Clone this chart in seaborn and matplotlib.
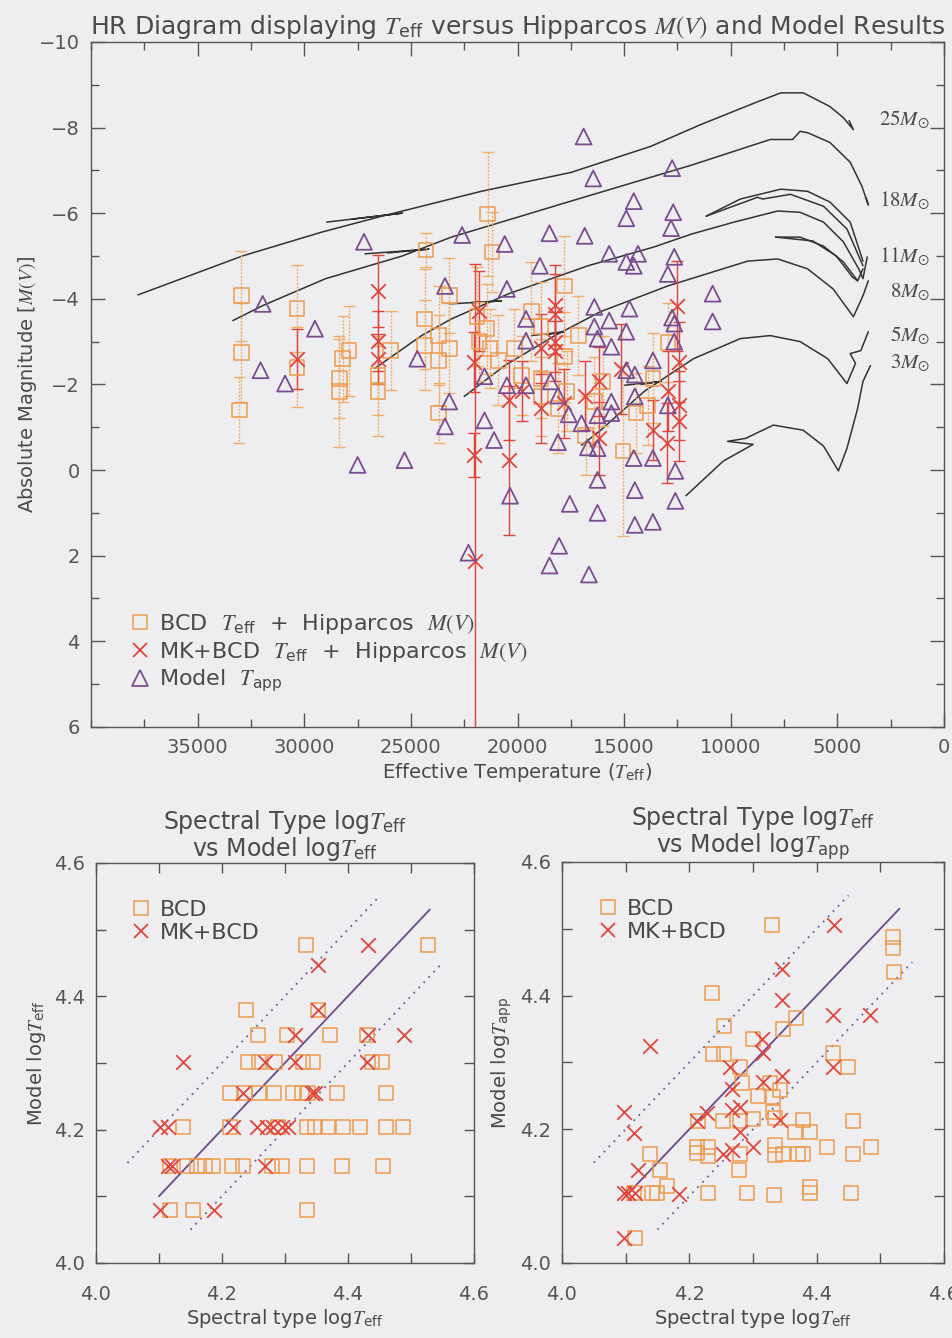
import numpy as np
import pandas as pd
import matplotlib
matplotlib.use("Agg")
import matplotlib.pyplot as plt
from matplotlib.lines import Line2D
from matplotlib.ticker import MultipleLocator
import seaborn as sns

# ---------------- data: HR diagram ----------------
bcd_T = [32950, 32950, 33050, 30350, 30350, 28350, 28350, 28200, 27900, 26550,
         26550, 25950, 24300, 24350, 23200, 24350, 23700, 23700, 23200, 23700,
         21400, 21200, 21900, 21450, 21300, 20900, 20150, 19350, 18900, 17800,
         17150, 17800, 18900, 19800, 18100, 16000, 16400, 13650, 13900, 16800,
         15050, 14450, 12950, 21800, 18900, 17700]
bcd_M = [-4.07, -2.74, -1.40, -3.77, -2.40, -1.84, -2.14, -2.60, -2.79, -2.21,
         -1.84, -2.79, -5.14, -3.53, -4.07, -2.91, -3.14, -2.56, -2.84, -1.33,
         -5.98, -5.09, -3.58, -3.30, -2.84, -2.56, -2.84, -3.70, -3.35, -4.30,
         -3.14, -2.65, -2.14, -2.21, -1.44, -2.07, -1.60, -2.14, -1.51, -0.81,
         -0.44, -1.33, -2.98, -3.00, -1.72, -1.84]
bcd_err = [1.05, 1.16, 0.77, 1.02, 0.93, 1.30, 0.93, 1.00, 1.05, 0.93,
           1.05, 0.93, 0.40, 1.16, 0.88, 1.05, 1.16, 1.05, 1.05, 0.70,
           1.44, 0.93, 1.16, 1.05, 0.93, 1.05, 0.93, 1.16, 1.05, 1.16,
           0.93, 1.05, 0.93, 0.93, 1.05, 1.05, 1.05, 1.05, 0.93, 0.93,
           1.98, 0.93, 0.93, 0.93, 0.93, 0.93]

mk_T = [26550, 26550, 26550, 30350, 22000, 22050, 22050, 21800, 20400, 20400,
        19800, 18900, 18900, 18250, 18250, 18250, 18250, 17800, 16850, 16200,
        16200, 15150, 13650, 12950, 13000, 12500, 12450, 12450, 12450]
mk_M = [-4.19, -3.02, -2.60, -2.60, 2.12, -0.35, -2.53, -3.72, -1.63, -0.23,
        -1.84, -1.44, -2.84, -3.86, -3.65, -3.00, -2.79, -1.56, -1.74, -2.07,
        -0.74, -2.37, -0.93, -1.84, -0.63, -3.84, -2.53, -1.51, -1.14]
mk_err = [0.84, 0.70, 0.58, 0.70, 6.93, 0.51, 0.70, 0.93, 0.93, 1.74,
          0.70, 0.81, 0.81, 0.93, 0.93, 0.70, 0.70, 0.81, 0.81, 0.81,
          0.86, 1.05, 0.70, 0.93, 0.93, 1.05, 0.93, 0.81, 0.93]

tapp_T = [27200, 31950, 29500, 22600, 23400, 32050, 30900, 27500, 25300, 24700,
          23200, 23400, 22300, 16900, 16450, 12750, 14550, 14900, 12700, 12800,
          20600, 18500, 16850, 15700, 14350, 14900, 14550, 18950, 12650, 12950,
          20500, 10850, 10850, 16400, 14750, 19600, 15700, 12750, 16400, 12650,
          14900, 16250, 19600, 15600, 12650, 21550, 20500, 19600, 18450, 18100,
          17600, 21550, 21100, 18100, 17000, 16700, 16250, 16250, 15600, 15600,
          14900, 14500, 14500, 13650, 12950, 12600, 14550, 13650, 16250, 14500,
          20350, 17550, 16250, 12600, 14500, 13650, 18050, 18500, 16650]
tapp_M = [-5.33, -3.88, -3.30, -5.49, -4.30, -2.33, -2.02, -0.12, -0.23, -2.60,
          -1.60, -1.02, 1.93, -7.79, -6.81, -7.05, -6.28, -5.88, -6.02, -5.65,
          -5.28, -5.53, -5.47, -5.05, -5.05, -4.86, -4.77, -4.77, -4.98, -4.58,
          -4.23, -4.12, -3.47, -3.81, -3.77, -3.53, -3.49, -3.56, -3.35, -3.42,
          -3.23, -3.07, -3.02, -2.88, -3.00, -2.19, -1.98, -1.98, -2.07, -1.74,
          -1.30, -1.16, -0.70, -0.65, -1.09, -0.53, -0.51, -1.28, -1.60, -1.33,
          -2.33, -2.23, -1.72, -2.56, -1.51, 0.02, -0.28, -0.28, 0.23, 0.47,
          0.60, 0.79, 1.00, 0.72, 1.28, 1.21, 1.77, 2.23, 2.44]

# evolutionary tracks (T_eff, M(V))
trk25_T = [37800, 32900, 29160, 26350, 21700, 17500, 13750, 11400, 8750, 7650, 6600, 5350, 4720, 4250, 4450]
trk25_M = [-4.09, -5.00, -5.56, -5.93, -6.51, -6.95, -7.56, -8.07, -8.60, -8.81, -8.81, -8.49, -8.23, -7.95, -8.16]
hook25_T = [28950, 25400, 27750]
hook25_M = [-5.79, -6.00, -5.86]
trk18_T = [33350, 31950, 29000, 25400, 23100, 17500, 11850, 8150, 7100, 6750, 6400, 5350, 4400, 3850, 3550, 3650]
trk18_M = [-3.49, -3.84, -4.47, -5.00, -5.44, -6.28, -7.12, -7.72, -7.72, -7.91, -7.88, -7.65, -7.19, -6.63, -6.19, -6.35]
hook18_T = [27150, 24150, 26100]
hook18_M = [-5.05, -5.16, -5.07]
trk11_T = [26700, 24500, 23100, 20400, 16700, 13600, 11850, 9850, 7800, 6750, 5650, 4720, 4000, 3800, 3600]
trk11_M = [-2.37, -3.14, -3.53, -4.12, -4.77, -5.21, -5.51, -5.79, -6.05, -6.02, -5.79, -5.33, -4.70, -4.47, -4.98]
hook11_T = [23200, 20750, 22150]
hook11_M = [-3.88, -3.95, -3.91]
loopA_T = [11150, 9550, 7650, 6400, 5350, 4400, 3800]
loopA_M = [-5.93, -6.33, -6.56, -6.51, -6.26, -5.79, -4.88]
loopB_T = [11150, 8750, 8500, 7200, 5650, 4550, 3800]
loopB_M = [-5.93, -6.37, -6.33, -6.44, -6.16, -5.63, -4.77]
segE1_T = [7900, 6750, 5650, 4720, 4050, 3800]
segE1_M = [-5.44, -5.44, -5.23, -4.86, -4.42, -4.70]
segE2_T = [7900, 6150, 5050, 4300, 4050]
segE2_M = [-5.44, -5.35, -5.00, -4.51, -4.42]
trk8_T = [22500, 20600, 18250, 16100, 12950, 9200, 7800, 6400, 5200, 4250, 3800, 3550]
trk8_M = [-1.72, -2.44, -3.14, -3.70, -4.30, -4.88, -4.93, -4.70, -4.23, -3.58, -4.07, -4.42]
hook8_T = [19350, 17800, 18650]
hook8_M = [-3.14, -3.23, -3.16]
trk5_T = [17000, 16100, 14050, 11750, 9550, 8150, 6750, 5450, 4550, 4150, 4400, 3900, 3550]
trk5_M = [-0.58, -0.93, -1.84, -2.60, -3.07, -3.14, -3.00, -2.60, -2.02, -2.49, -2.72, -2.79, -3.23]
hook5_T = [15000, 13250, 14200]
hook5_M = [-1.98, -2.07, -2.00]
trk3_T = [12100, 10350, 8950, 10150, 9300, 8000, 6600, 5650, 4950, 4550, 4050, 3800, 3450]
trk3_M = [0.60, -0.21, -0.60, -0.67, -0.74, -1.05, -0.93, -0.56, 0.02, -0.51, -1.44, -2.07, -2.44]

mass_labels = ["25", "18", "11", "8", "5", "3"]
mass_label_M = [-8.19, -6.28, -4.98, -4.16, -3.14, -2.49]

# ---------------- data: log T comparison panels ----------------
l_bcd_x = [4.333, 4.527, 4.238, 4.352, 4.257, 4.303, 4.371, 4.430,
           4.241, 4.259, 4.284, 4.329, 4.344, 4.438, 4.454,
           4.213, 4.237, 4.259, 4.283, 4.313, 4.327, 4.337, 4.383, 4.460,
           4.138, 4.213, 4.289, 4.335, 4.348, 4.368, 4.392, 4.419, 4.460, 4.487,
           4.117, 4.144, 4.160, 4.173, 4.186, 4.216, 4.233, 4.279, 4.295, 4.335, 4.390, 4.456,
           4.117, 4.154, 4.335]
l_bcd_y = [4.477, 4.477, 4.380, 4.380, 4.342, 4.342, 4.342, 4.342,
           4.301, 4.301, 4.301, 4.301, 4.301, 4.301, 4.301,
           4.255, 4.255, 4.255, 4.255, 4.255, 4.255, 4.255, 4.255, 4.255,
           4.204, 4.204, 4.204, 4.204, 4.204, 4.204, 4.204, 4.204, 4.204, 4.204,
           4.146, 4.146, 4.146, 4.146, 4.146, 4.146, 4.146, 4.146, 4.146, 4.146, 4.146, 4.146,
           4.079, 4.079, 4.079]
l_mk_x = [4.432, 4.352, 4.352, 4.316, 4.432, 4.489, 4.138, 4.268, 4.316, 4.430,
          4.233, 4.343, 4.348, 4.102, 4.114, 4.217, 4.256, 4.271, 4.281, 4.295,
          4.305, 4.114, 4.121, 4.268, 4.102, 4.187]
l_mk_y = [4.477, 4.447, 4.380, 4.342, 4.342, 4.342, 4.301, 4.301, 4.301, 4.301,
          4.255, 4.255, 4.255, 4.204, 4.204, 4.204, 4.204, 4.204, 4.204, 4.204,
          4.204, 4.146, 4.146, 4.146, 4.079, 4.079]

r_bcd_x = [4.330, 4.520, 4.520, 4.521, 4.236, 4.254, 4.368, 4.347, 4.300, 4.237,
           4.254, 4.426, 4.449, 4.280, 4.283, 4.327, 4.342, 4.308, 4.331, 4.331,
           4.253, 4.280, 4.300, 4.214, 4.335, 4.366, 4.379, 4.390, 4.457, 4.212,
           4.229, 4.212, 4.229, 4.280, 4.335, 4.335, 4.347, 4.371, 4.379, 4.416,
           4.457, 4.485, 4.138, 4.154, 4.278, 4.165, 4.149, 4.141, 4.229, 4.291,
           4.333, 4.390, 4.390, 4.454, 4.113, 4.115]
r_bcd_y = [4.506, 4.488, 4.471, 4.435, 4.404, 4.355, 4.367, 4.350, 4.335, 4.313,
           4.313, 4.314, 4.293, 4.293, 4.269, 4.269, 4.259, 4.250, 4.248, 4.226,
           4.212, 4.212, 4.215, 4.212, 4.217, 4.196, 4.214, 4.196, 4.212, 4.174,
           4.174, 4.165, 4.160, 4.163, 4.177, 4.162, 4.163, 4.163, 4.163, 4.174,
           4.163, 4.174, 4.163, 4.139, 4.139, 4.115, 4.105, 4.105, 4.105, 4.105,
           4.102, 4.114, 4.105, 4.105, 4.105, 4.037]
r_mk_x = [4.427, 4.346, 4.346, 4.426, 4.484, 4.138, 4.314, 4.316, 4.264, 4.346,
          4.426, 4.316, 4.267, 4.228, 4.212, 4.267, 4.280, 4.342, 4.280, 4.300,
          4.267, 4.253, 4.097, 4.113, 4.119, 4.097, 4.104, 4.115, 4.184, 4.097]
r_mk_y = [4.506, 4.440, 4.394, 4.371, 4.371, 4.325, 4.335, 4.314, 4.293, 4.280,
          4.293, 4.271, 4.260, 4.224, 4.212, 4.229, 4.233, 4.214, 4.196, 4.174,
          4.169, 4.163, 4.226, 4.195, 4.139, 4.105, 4.105, 4.105, 4.103, 4.037]

fit_x = [4.10, 4.53]
band_lo_x = [4.05, 4.45]
band_hi_x = [4.15, 4.55]
band_offset = 0.10

# ---------------- style ----------------
sns.set_theme(style="ticks")
BG = "#eeeef0"
TXT = "#4a4a4a"
plt.rcParams.update({
    "font.family": ["DejaVu Sans"],
    "mathtext.fontset": "custom",
    "mathtext.rm": "STIXGeneral",
    "mathtext.it": "STIXGeneral:italic",
    "mathtext.bf": "STIXGeneral:bold",
    "mathtext.sf": "DejaVu Sans",
    "text.color": TXT,
    "axes.labelcolor": TXT,
    "xtick.color": "#555555",
    "ytick.color": "#555555",
    "axes.edgecolor": "#555555",
    "axes.linewidth": 1.0,
    "figure.facecolor": BG,
    "axes.facecolor": BG,
    "savefig.facecolor": BG,
})

C_BCD = "#ee9a4c"
C_BCD_ERR = "#f1ad6a"
C_MK = "#e2443c"
C_TRI = "#7a4c90"
C_TRK = "#333333"
C_FIT = "#6b4a8c"
C_DOT = "#6a5c9c"

fig = plt.figure(figsize=(9.52, 13.38), dpi=100)

# ---------------- top HR diagram ----------------
ax = fig.add_axes([0.0956, 0.4567, 0.896, 0.512])

tracks = [(trk25_T, trk25_M), (hook25_T, hook25_M), (trk18_T, trk18_M), (hook18_T, hook18_M),
          (trk11_T, trk11_M), (hook11_T, hook11_M), (loopA_T, loopA_M), (loopB_T, loopB_M),
          (segE1_T, segE1_M), (segE2_T, segE2_M), (trk8_T, trk8_M), (hook8_T, hook8_M),
          (trk5_T, trk5_M), (hook5_T, hook5_M), (trk3_T, trk3_M)]
for tt, mm in tracks:
    sns.lineplot(x=tt, y=mm, sort=False, estimator=None, color=C_TRK, lw=1.1, ax=ax, zorder=2)

eb = ax.errorbar(bcd_T, bcd_M, yerr=bcd_err, fmt="none", ecolor=C_BCD_ERR,
                 elinewidth=1.0, capsize=4, capthick=1.0, zorder=3)
eb[2][0].set_linestyle((0, (1.5, 1.0)))
ax.errorbar(mk_T, mk_M, yerr=mk_err, fmt="none", ecolor=C_MK,
            elinewidth=1.0, capsize=4, capthick=1.0, zorder=3)

sns.scatterplot(x=bcd_T, y=bcd_M, marker="s", s=110, facecolors="none",
                edgecolor=C_BCD, linewidth=1.1, ax=ax, zorder=4)
sns.scatterplot(x=mk_T, y=mk_M, marker="x", s=110, color=C_MK, linewidth=1.3, ax=ax, zorder=5)
sns.scatterplot(x=tapp_T, y=tapp_M, marker="^", s=130, facecolors="none",
                edgecolor=C_TRI, linewidth=1.3, ax=ax, zorder=5)

for lab, mv in zip(mass_labels, mass_label_M):
    ax.text(650, mv, r"$%s\mathit{M}_{\odot}$" % lab, ha="right", va="center",
            fontsize=15, color=TXT, zorder=6)

ax.set_xlim(40000, 0)
ax.set_ylim(6, -10)
ax.xaxis.set_minor_locator(MultipleLocator(2500))
ax.yaxis.set_minor_locator(MultipleLocator(1))
ax.set_xticks([35000, 30000, 25000, 20000, 15000, 10000, 5000, 0])
ax.set_yticks([-10, -8, -6, -4, -2, 0, 2, 4, 6])
ax.set_yticklabels(["\u221210", "\u22128", "\u22126", "\u22124", "\u22122", "0", "2", "4", "6"])
ax.tick_params(which="both", direction="in", top=True, right=True, labelsize=14, pad=8)
ax.tick_params(which="major", length=10, width=1)
ax.tick_params(which="minor", length=6, width=1)
ax.set_xlabel(r"Effective Temperature ($T_{\mathsf{eff}}$)", fontsize=14, labelpad=3)
ax.set_ylabel(r"Absolute Magnitude [$M(V)$]", fontsize=14, labelpad=0)
ax.set_title(r"HR Diagram displaying $T_{\mathsf{eff}}$ versus Hipparcos $M(V)$ and Model Results",
             fontsize=18, pad=6, color=TXT)

h1 = Line2D([], [], marker="s", ls="none", ms=10, mfc="none", mec=C_BCD, mew=1.1)
h2 = Line2D([], [], marker="x", ls="none", ms=10, color=C_MK, mew=1.3)
h3 = Line2D([], [], marker="^", ls="none", ms=11, mfc="none", mec=C_TRI, mew=1.3)
ax.legend([h1, h2, h3],
          [r"BCD  $T_{\mathsf{eff}}$  +  Hipparcos  $M(V)$",
           r"MK+BCD  $T_{\mathsf{eff}}$  +  Hipparcos  $M(V)$",
           r"Model  $T_{\mathsf{app}}$"],
          loc="lower left", bbox_to_anchor=(0.035, 0.035), frameon=False, fontsize=16,
          handlelength=0.9, handletextpad=0.4, labelspacing=0.18, borderaxespad=0.0)


def panel(rect, bx, by, mx, my, ylab, title):
    a = fig.add_axes(rect)
    sns.lineplot(x=fit_x, y=fit_x, color=C_FIT, lw=1.3, ax=a, zorder=2)
    sns.lineplot(x=band_lo_x, y=[v + band_offset for v in band_lo_x], color=C_DOT,
                 lw=1.3, ls=(0, (1, 3)), ax=a, zorder=2)
    sns.lineplot(x=band_hi_x, y=[v - band_offset for v in band_hi_x], color=C_DOT,
                 lw=1.3, ls=(0, (1, 3)), ax=a, zorder=2)
    sns.scatterplot(x=bx, y=by, marker="s", s=100, facecolors="none", edgecolor=C_BCD,
                    linewidth=1.1, ax=a, zorder=3)
    sns.scatterplot(x=mx, y=my, marker="x", s=110, color=C_MK, linewidth=1.3, ax=a, zorder=4)
    a.set_xlim(4.0, 4.6)
    a.set_ylim(4.0, 4.6)
    a.set_xticks([4.0, 4.2, 4.4, 4.6])
    a.set_yticks([4.0, 4.2, 4.4, 4.6])
    a.xaxis.set_minor_locator(MultipleLocator(0.1))
    a.yaxis.set_minor_locator(MultipleLocator(0.1))
    a.set_xticklabels(["4.0", "4.2", "4.4", "4.6"])
    a.set_yticklabels(["4.0", "4.2", "4.4", "4.6"])
    a.tick_params(which="both", direction="in", top=True, right=True, labelsize=14,
                  length=7, width=1)
    a.tick_params(axis="x", pad=16)
    a.tick_params(axis="y", pad=8)
    a.set_xlabel(r"Spectral type log$T_{\mathsf{eff}}$", fontsize=14, labelpad=2)
    a.set_ylabel(ylab, fontsize=14, labelpad=4)
    a.set_title(title, fontsize=17, pad=5, color=TXT, linespacing=0.95)
    hb = Line2D([], [], marker="s", ls="none", ms=10, mfc="none", mec=C_BCD, mew=1.1)
    hm = Line2D([], [], marker="x", ls="none", ms=10, color=C_MK, mew=1.3)
    a.legend([hb, hm], ["BCD", "MK+BCD"], loc="upper left", bbox_to_anchor=(0.07, 0.93),
             frameon=False, fontsize=16, handlelength=0.9, handletextpad=0.4,
             labelspacing=0.15, borderaxespad=0.0)
    return a


panel([0.1008, 0.0561, 0.397, 0.299], l_bcd_x, l_bcd_y, l_mk_x, l_mk_y,
      r"Model log$T_{\mathsf{eff}}$",
      "Spectral Type log$T_{\\mathsf{eff}}$\nvs Model log$T_{\\mathsf{eff}}$")
panel([0.5903, 0.0561, 0.4013, 0.2997], r_bcd_x, r_bcd_y, r_mk_x, r_mk_y,
      r"Model log$T_{\mathsf{app}}$",
      "Spectral Type log$T_{\\mathsf{eff}}$\nvs Model log$T_{\\mathsf{app}}$")

fig.savefig("out.png", dpi=100)
